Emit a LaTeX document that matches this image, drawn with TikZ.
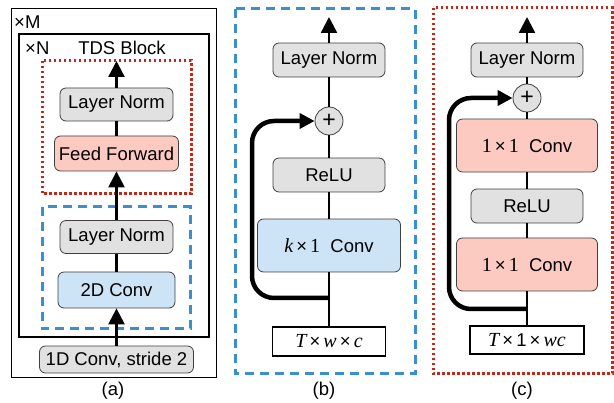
\documentclass[tikz,border=0pt]{standalone}
\usepackage{fontspec}
\setmainfont{Liberation Sans}
\newfontfamily\tnr{Liberation Serif}
\usetikzlibrary{arrows.meta}
\definecolor{lngray}{HTML}{E1E1E1}
\definecolor{ffpink}{HTML}{FCCAC1}
\definecolor{cvblue}{HTML}{CCE4F5}
\definecolor{dashblue}{HTML}{3A8FCC}
\definecolor{dotred}{HTML}{C0281C}
\newcommand{\mi}[1]{{\fontsize{20}{20}\selectfont\tnr\itshape #1}}
\newcommand{\mr}[1]{{\fontsize{20}{20}\selectfont\tnr #1}}
\begin{document}
\begin{tikzpicture}[x=1pt,y=-1pt,
  font=\fontsize{18.5}{21}\selectfont,
  box/.style={draw=black!75, line width=0.8pt, rounded corners=6pt, inner sep=0pt},
  gbox/.style={box, fill=lngray},
  pbox/.style={box, fill=ffpink},
  bbox/.style={box, fill=cvblue},
  shapebox/.style={draw=black, line width=1.1pt, fill=white, inner sep=0pt},
  plus/.style={circle, draw=black!75, line width=0.8pt, fill=lngray, minimum size=28pt, inner sep=0pt},
  flow/.style={line width=2.4pt},
  arr/.style={flow, -{Triangle[length=16pt,width=16pt]}},
  skip/.style={line width=4.5pt, rounded corners=22pt, -{Triangle[length=15pt,width=15pt]}},
  bluedash/.style={draw=dashblue, line width=3pt, dash pattern=on 9pt off 6pt},
  reddot/.style={draw=dotred, line width=3pt, dash pattern=on 2.5pt off 2.5pt}
]
\path[use as bounding box] (0,0) rectangle (614,403);

% ---------------- panel (a)
\draw[line width=1pt] (11,9) rectangle (216,378);
\draw[line width=2pt] (19,34) rectangle (209,337);
\node[anchor=west, inner sep=0pt] (xm) at (14,22) {×M};
\node[anchor=west, inner sep=0pt] (xn) at (25,48) {×N};
\node[inner sep=0pt] (tds) at (122,48) {TDS Block};
\draw[reddot] (42,61) rectangle (191,194);
\draw[bluedash] (42,207) rectangle (190,329);

\node[gbox, minimum width=113pt, minimum height=33pt] (aln2) at (116.5,104.5) {Layer Norm};
\node[pbox, minimum width=124pt, minimum height=35pt] (aff) at (116.5,153.5) {Feed Forward};
\node[gbox, minimum width=113pt, minimum height=33pt] (aln1) at (116.5,237) {Layer Norm};
\node[bbox, minimum width=117pt, minimum height=36pt] (a2d) at (116.5,290) {2D Conv};
\node[gbox, minimum width=154pt, minimum height=27pt] (a1d) at (116.5,359.5) {1D Conv, stride 2};
\coordinate (atop) at (116.5,61);
\node (la) at (113,391) {(a)};

\draw[arr] (a1d.north) -- (a2d.south);
\draw[flow] (a2d.north) -- (aln1.south);
\draw[arr] (aln1.north) -- (aff.south);
\draw[flow] (aff.north) -- (aln2.south);
\draw[arr] (aln2.north) -- (atop);

% ---------------- panel (b)
\draw[bluedash] (235,9) rectangle (415,374);
\node[gbox, minimum width=112pt, minimum height=34pt] (bln) at (329,60) {Layer Norm};
\node[plus] (bplus) at (329,121) {\fontsize{23}{23}\selectfont +};
\node[gbox, minimum width=112pt, minimum height=34pt] (brelu) at (329,175) {ReLU};
\node[bbox, minimum width=143pt, minimum height=53pt] (bconv) at (329,245.5) {\mi{k}\,×\,\mr{1}\ \ Conv};
\node[shapebox, minimum width=113pt, minimum height=29pt] (bin) at (329,341.5) {\mi{T}\,×\,\mi{w}\,×\,\mi{c}};
\coordinate (bj) at (329,298);
\coordinate (btop) at (329,17);
\node (lb) at (324,391) {(b)};

\draw[flow] (bin.north) -- (bconv.south);
\draw[flow] (bconv.north) -- (brelu.south);
\draw[flow] (brelu.north) -- (bplus.south);
\draw[flow] (bplus.north) -- (bln.south);
\draw[arr] (bln.north) -- (btop);
\draw[skip] (bj) -- (252,298) -- (252,121) -- (bplus.west);

% ---------------- panel (c)
\draw[reddot] (433,8) rectangle (612,374);
\node[gbox, minimum width=112pt, minimum height=34pt] (cln) at (527,60) {Layer Norm};
\node[plus] (cplus) at (527,98) {\fontsize{23}{23}\selectfont +};
\node[pbox, minimum width=141pt, minimum height=53pt] (cconv2) at (527,145.5) {\mr{1}\,×\,\mr{1}\ \ Conv};
\node[gbox, minimum width=112pt, minimum height=34pt] (crelu) at (527,206) {ReLU};
\node[pbox, minimum width=141pt, minimum height=53pt] (cconv1) at (527,264.5) {\mr{1}\,×\,\mr{1}\ \ Conv};
\node[shapebox, minimum width=114pt, minimum height=28pt] (cin) at (527,340) {\mi{T}\,×\,1\,×\,\mi{wc}};
\coordinate (cj) at (527,309);
\coordinate (ctop) at (527,17);
\node (lc) at (522,391) {(c)};

\draw[flow] (cin.north) -- (cconv1.south);
\draw[flow] (cconv1.north) -- (crelu.south);
\draw[flow] (crelu.north) -- (cconv2.south);
\draw[flow] (cconv2.north) -- (cplus.south);
\draw[flow] (cplus.north) -- (cln.south);
\draw[arr] (cln.north) -- (ctop);
\draw[skip] (cj) -- (449,309) -- (449,98) -- (cplus.west);
\end{tikzpicture}
\end{document}
